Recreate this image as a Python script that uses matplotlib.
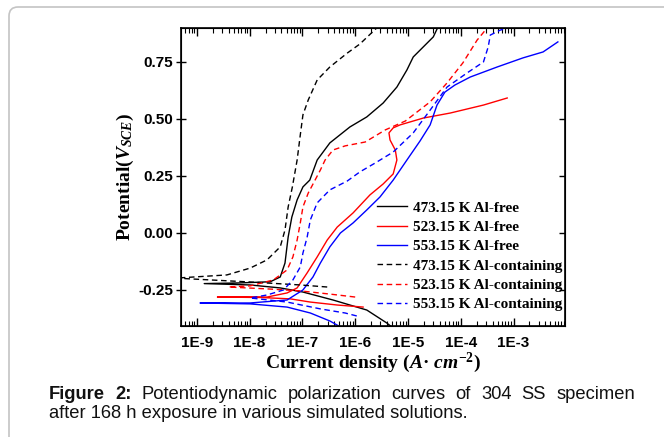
import matplotlib
matplotlib.use("Agg")
import matplotlib.pyplot as plt
from matplotlib.patches import FancyBboxPatch
from matplotlib.ticker import LogLocator, FuncFormatter, NullLocator, FixedLocator, NullFormatter
import numpy as np

# --------------------------------------------------------------
# Data: log10(current density) and potential (V vs SCE)
# each curve = cathodic branch (from Ecorr outward) + anodic branch
# --------------------------------------------------------------
labels = ["473.15 K Al-free", "523.15 K Al-free", "553.15 K Al-free",
          "473.15 K Al-containing", "523.15 K Al-containing", "553.15 K Al-containing"]
colors = ["black", "red", "blue", "black", "red", "blue"]
styles = ["-", "-", "-", "--", "--", "--"]

# 473.15 K Al-free
c1_logi = [-5.24, -5.40, -5.78, -6.42, -6.99, -7.42, -7.99, -8.86]
c1_e = [-0.425, -0.395, -0.338, -0.294, -0.259, -0.241, -0.228, -0.222]
a1_logi = [-8.86, -8.18, -7.61, -7.42, -7.33, -7.27, -7.20, -7.10, -6.99, -6.86, -6.72,
           -6.48, -6.10, -5.78, -5.47, -5.21, -5.02, -4.90, -4.71, -4.52, -4.43]
a1_e = [-0.222, -0.219, -0.214, -0.193, -0.132, -0.018, 0.070, 0.145, 0.202, 0.232, 0.320,
        0.395, 0.465, 0.509, 0.570, 0.640, 0.715, 0.772, 0.816, 0.860, 0.904]

# 523.15 K Al-free
c2_logi = [-5.85, -6.34, -6.85, -7.23, -7.80, -8.61]
c2_e = [-0.325, -0.316, -0.303, -0.289, -0.283, -0.281]
a2_logi = [-8.61, -7.67, -7.29, -7.10, -6.91, -6.72, -6.53, -6.34, -6.04, -5.72, -5.47,
           -5.28, -5.21, -5.24, -5.34, -5.36, -5.28, -5.15, -4.71, -4.20, -3.57, -3.12]
a2_e = [-0.281, -0.281, -0.263, -0.241, -0.175, -0.105, -0.031, 0.026, 0.088, 0.167, 0.215,
        0.259, 0.320, 0.364, 0.408, 0.439, 0.461, 0.474, 0.504, 0.526, 0.561, 0.592]

# 553.15 K Al-free
c3_logi = [-6.28, -6.48, -6.85, -7.29, -7.99, -8.94]
c3_e = [-0.412, -0.386, -0.351, -0.325, -0.311, -0.307]
a3_logi = [-8.94, -7.99, -7.29, -6.99, -6.80, -6.66, -6.48, -6.28, -6.04, -5.78, -5.53,
           -5.28, -5.02, -4.77, -4.58, -4.45, -4.30, -4.11, -3.82, -3.31, -2.82, -2.44, -2.16]
a3_e = [-0.307, -0.307, -0.294, -0.250, -0.193, -0.132, -0.061, 0.000, 0.044, 0.101, 0.158,
        0.232, 0.320, 0.404, 0.474, 0.561, 0.618, 0.649, 0.684, 0.728, 0.768, 0.794, 0.838]

# 473.15 K Al-containing
c4_logi = [-6.53, -7.04, -7.99, -9.40]
c4_e = [-0.237, -0.228, -0.215, -0.198]
a4_logi = [-9.40, -8.43, -7.99, -7.67, -7.42, -7.33, -7.27, -7.19, -7.10, -7.04, -6.99,
           -6.89, -6.72, -6.48, -6.15, -5.91, -5.57]
a4_e = [-0.198, -0.184, -0.154, -0.118, -0.061, 0.013, 0.114, 0.202, 0.320, 0.430, 0.518,
        0.583, 0.671, 0.728, 0.789, 0.829, 0.904]

# 523.15 K Al-containing
c5_logi = [-6.00, -6.48, -7.04, -7.61, -8.40]
c5_e = [-0.281, -0.268, -0.254, -0.246, -0.237]
a5_logi = [-8.40, -7.99, -7.55, -7.29, -7.18, -7.10, -7.04, -6.99, -6.89, -6.76, -6.66,
           -6.57, -6.42, -6.19, -5.81, -5.43, -5.05, -4.58, -4.26, -3.96, -3.69, -3.50]
a5_e = [-0.237, -0.232, -0.206, -0.162, -0.105, -0.031, 0.044, 0.114, 0.175, 0.232, 0.276,
        0.320, 0.364, 0.382, 0.399, 0.452, 0.491, 0.575, 0.658, 0.746, 0.846, 0.899]

# 553.15 K Al-containing
c6_logi = [-5.97, -6.19, -6.66, -7.29, -7.99]
c6_e = [-0.364, -0.351, -0.333, -0.303, -0.285]
a6_logi = [-7.99, -7.67, -7.36, -7.18, -7.04, -6.99, -6.91, -6.85, -6.72, -6.48, -6.15,
           -5.91, -5.62, -5.28, -4.90, -4.58, -4.26, -3.88, -3.57, -3.48, -3.44, -3.25, -3.01]
a6_e = [-0.285, -0.272, -0.250, -0.206, -0.149, -0.088, -0.018, 0.057, 0.132, 0.189, 0.228,
        0.268, 0.307, 0.355, 0.439, 0.539, 0.640, 0.702, 0.750, 0.816, 0.868, 0.890, 0.904]

curves = [
    (c1_logi + a1_logi, c1_e + a1_e),
    (c2_logi + a2_logi, c2_e + a2_e),
    (c3_logi + a3_logi, c3_e + a3_e),
    (c4_logi + a4_logi, c4_e + a4_e),
    (c5_logi + a5_logi, c5_e + a5_e),
    (c6_logi + a6_logi, c6_e + a6_e),
]

x_major = [1e-9, 1e-8, 1e-7, 1e-6, 1e-5, 1e-4, 1e-3]
y_major = [-0.25, 0.00, 0.25, 0.50, 0.75]

caption_line1 = ["Figure", "2:", "Potentiodynamic", "polarization", "curves", "of",
                 "304", "SS", "specimen"]
caption_line2 = "after 168 h exposure in various simulated solutions."

# --------------------------------------------------------------
plt.rcParams["mathtext.fontset"] = "custom"
plt.rcParams["mathtext.rm"] = "Liberation Serif:bold"
plt.rcParams["mathtext.it"] = "Liberation Serif:italic:bold"
plt.rcParams["mathtext.bf"] = "Liberation Serif:bold"

W, H = 664, 437
fig = plt.figure(figsize=(W / 100, H / 100), dpi=100)

# rounded grey frame around figure + caption
frame = FancyBboxPatch((9, -60), 720, H - 7 + 60, boxstyle="round,pad=0,rounding_size=9",
                       transform=None, facecolor="none", edgecolor="#c4c4c4",
                       linewidth=1.2, zorder=-1)
fig.patches.append(frame)

ax = fig.add_axes([181 / W, 1 - 326 / H, (565 - 181) / W, (326 - 28) / H])

for (li, e), col, ls, lab in zip(curves, colors, styles, labels):
    i = 10.0 ** np.array(li)
    if ls == "--":
        ax.plot(i, e, color=col, lw=1.0, linestyle=(0, (4, 2.6)), label=lab)
    else:
        ax.plot(i, e, color=col, lw=1.0, label=lab)

ax.set_xscale("log")
ax.set_xlim(10 ** -9.3, 10 ** -2.025)
ax.set_ylim(-0.408, 0.899)

ax.xaxis.set_major_locator(FixedLocator(x_major))
ax.xaxis.set_minor_locator(LogLocator(base=10, subs=np.arange(2, 10), numticks=20))
ax.xaxis.set_major_formatter(FuncFormatter(lambda v, p: "1E%d" % round(np.log10(v))))
ax.yaxis.set_major_locator(FixedLocator(y_major))
ax.yaxis.set_minor_locator(NullLocator())
ax.yaxis.set_major_formatter(FuncFormatter(lambda v, p: "%.2f" % v))

ax.tick_params(axis="x", which="major", direction="in", length=6, width=1,
               top=True, pad=7)
ax.tick_params(axis="x", which="minor", direction="in", length=3.5, width=0.8, top=True)
ax.tick_params(axis="y", which="major", direction="inout", length=7, width=1, pad=2)
for lab in ax.get_xticklabels() + ax.get_yticklabels():
    lab.set_fontfamily("Liberation Sans")
    lab.set_fontweight("bold")
    lab.set_fontsize(11)
for sp in ax.spines.values():
    sp.set_linewidth(1.2)

# right-hand ticks point inward only
ax_r = ax.twinx()
ax_r.set_ylim(ax.get_ylim())
ax_r.yaxis.set_major_locator(FixedLocator(y_major))
ax_r.yaxis.set_major_formatter(NullFormatter())
ax_r.tick_params(axis="y", direction="in", length=4, width=1)

ax.set_xlabel(r"Current density ($A$· $cm^{-2}$)", fontfamily="Liberation Serif",
              fontweight="bold", fontsize=14, labelpad=1)
ax.set_ylabel(r"Potential($V_{SCE}$)", fontfamily="Liberation Serif",
              fontweight="bold", fontsize=14, labelpad=2)

ax.legend(loc="upper left", bbox_to_anchor=(0.51, 0.42), frameon=False,
          borderpad=0, borderaxespad=0, handlelength=2.0, handletextpad=0.35,
          labelspacing=0.37,
          prop={"family": "Liberation Serif", "weight": "bold", "size": 11})

# caption, first line justified
cap_font = dict(family="Liberation Sans", size=13.2, color="#111111")
x0, x1 = 49, 635
texts = []
for k, w in enumerate(caption_line1):
    t = fig.text(0, 1 - 399 / H, w, ha="left", va="baseline",
                 fontweight="bold" if k < 2 else "normal", **cap_font)
    texts.append(t)
fig.canvas.draw()
r = fig.canvas.get_renderer()
widths = [t.get_window_extent(r).width for t in texts]
gap = (x1 - x0 - sum(widths)) / (len(texts) - 1)
xp = x0
for t, w in zip(texts, widths):
    t.set_x(xp / W)
    xp += w + gap
fig.text(x0 / W, 1 - 418 / H, caption_line2, ha="left", va="baseline", **cap_font)

fig.savefig("out.png", dpi=100)
